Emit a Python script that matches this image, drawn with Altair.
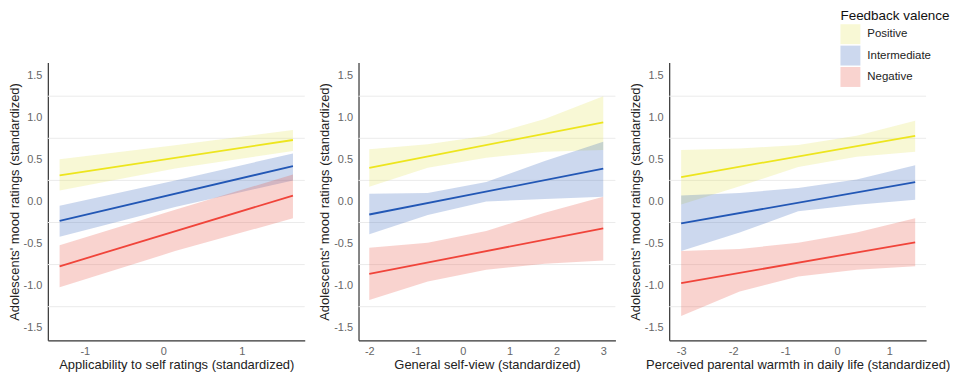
import altair as alt
import pandas as pd

valences = ["Positive", "Intermediate", "Negative"]
line_colors = ["#ede51d", "#2257b5", "#f0443a"]
band_colors = ["#e3e357", "#3363bb", "#e74f3f"]

y_ticks = [-1.5, -1.0, -0.5, 0.0, 0.5, 1.0, 1.5]
grid_vals = [-1.25, -0.75, -0.25, 0.25, 0.75, 1.25]
y_title = "Adolescents' mood ratings (standardized)"

# Panel A
p1_x_line = [-1.32, 1.65]
p1_pos = [0.31, 0.73]
p1_int = [-0.23, 0.42]
p1_neg = [-0.77, 0.07]
p1_x_band = [-1.32, 0.15, 1.65]
p1_pos_lo = [0.13, 0.39, 0.60]
p1_pos_hi = [0.50, 0.667, 0.85]
p1_int_lo = [-0.42, -0.065, 0.25]
p1_int_hi = [-0.05, 0.25, 0.57]
p1_neg_lo = [-1.02, -0.59, -0.20]
p1_neg_hi = [-0.52, -0.10, 0.32]
p1_ticks = [-1, 0, 1]
p1_domain = [-1.47, 1.80]
p1_title = "Applicability to self ratings (standardized)"

# Panel B
p2_x_line = [-2, 3]
p2_pos = [0.40, 0.94]
p2_int = [-0.155, 0.39]
p2_neg = [-0.86, -0.32]
p2_x_band = [-2, -0.75, 0.5, 1.75, 3]
p2_pos_lo = [0.175, 0.40, 0.52, 0.59, 0.61]
p2_pos_hi = [0.62, 0.68, 0.78, 0.98, 1.25]
p2_int_lo = [-0.39, -0.16, 0.0, 0.03, 0.055]
p2_int_hi = [0.09, 0.10, 0.23, 0.48, 0.71]
p2_neg_lo = [-1.17, -0.95, -0.81, -0.74, -0.70]
p2_neg_hi = [-0.55, -0.49, -0.35, -0.135, 0.055]
p2_ticks = [-2, -1, 0, 1, 2, 3]
p2_domain = [-2.23, 3.26]
p2_title = "General self-view (standardized)"

# Panel C
p3_x_line = [-3, 1.5]
p3_pos = [0.29, 0.78]
p3_int = [-0.26, 0.23]
p3_neg = [-0.97, -0.485]
p3_x_band = [-3, -1.875, -0.75, 0.375, 1.5]
p3_pos_lo = [-0.035, 0.18, 0.41, 0.53, 0.59]
p3_pos_hi = [0.61, 0.63, 0.67, 0.78, 0.96]
p3_int_lo = [-0.59, -0.37, -0.115, -0.04, 0.02]
p3_int_hi = [0.07, 0.10, 0.16, 0.26, 0.43]
p3_neg_lo = [-1.36, -1.07, -0.89, -0.81, -0.77]
p3_neg_hi = [-0.59, -0.565, -0.49, -0.37, -0.20]
p3_ticks = [-3, -2, -1, 0, 1]
p3_domain = [-3.23, 1.71]
p3_title = "Perceived parental warmth in daily life (standardized)"

FONT = "Liberation Sans"
fill_scale = alt.Scale(domain=valences, range=band_colors)
stroke_scale = alt.Scale(domain=valences, range=line_colors)
y_scale = alt.Scale(domain=[-1.65, 1.65], nice=False, zero=False)


def minus_expr(fmt):
    return ("datum.value < 0 ? '-' + format(-datum.value, '%s') : format(datum.value, '%s')"
            % (fmt, fmt))


def make_panel(xl, lines, xb, bands, xdom, xticks, xtitle):
    line_df = pd.DataFrame(
        [{"x": x, "y": y, "valence": v}
         for v, ys in zip(valences, lines) for x, y in zip(xl, ys)])
    band_df = pd.DataFrame(
        [{"x": x, "lo": lo, "hi": hi, "valence": v}
         for v, (los, his) in zip(valences, bands)
         for x, lo, hi in zip(xb, los, his)])
    grid_df = pd.DataFrame({"g": grid_vals})

    x_scale = alt.Scale(domain=xdom, nice=False, zero=False)
    x_axis = alt.Axis(values=xticks, title=xtitle, grid=False, ticks=False, tickSize=0,
                      labelPadding=5, titlePadding=2, labelExpr=minus_expr("d"))
    y_axis = alt.Axis(values=y_ticks, title=y_title, grid=False, ticks=False, tickSize=0,
                      labelPadding=6, titlePadding=2, labelExpr=minus_expr(".1f"))

    legend = alt.Legend(title="Feedback valence", orient="none", legendX=796, legendY=-54,
                        symbolType="square", symbolSize=400, symbolOpacity=0.25,
                        symbolStrokeWidth=0, labelFontSize=11.5, titleFontSize=13.5,
                        titleFontWeight="normal", titlePadding=2, rowPadding=1.5,
                        labelOffset=7, padding=0, titleColor="#111", labelColor="#222",
                        titleFont=FONT, labelFont=FONT)

    grid = alt.Chart(grid_df).mark_rule(color="#ebebeb", strokeWidth=1).encode(
        y=alt.Y("g:Q", scale=y_scale, axis=y_axis))
    band = alt.Chart(band_df).mark_area(opacity=0.25).encode(
        x=alt.X("x:Q", scale=x_scale, axis=x_axis),
        y=alt.Y("lo:Q", scale=y_scale, axis=y_axis),
        y2="hi:Q",
        fill=alt.Fill("valence:N", scale=fill_scale, legend=legend),
    )
    line = alt.Chart(line_df).mark_line(strokeWidth=1.8).encode(
        x=alt.X("x:Q", scale=x_scale, axis=x_axis),
        y=alt.Y("y:Q", scale=y_scale, axis=y_axis),
        stroke=alt.Stroke("valence:N", scale=stroke_scale, legend=None),
    )
    return alt.layer(grid, band, line).properties(width=258, height=279)


p1 = make_panel(p1_x_line, [p1_pos, p1_int, p1_neg], p1_x_band,
                [(p1_pos_lo, p1_pos_hi), (p1_int_lo, p1_int_hi), (p1_neg_lo, p1_neg_hi)],
                p1_domain, p1_ticks, p1_title)
p2 = make_panel(p2_x_line, [p2_pos, p2_int, p2_neg], p2_x_band,
                [(p2_pos_lo, p2_pos_hi), (p2_int_lo, p2_int_hi), (p2_neg_lo, p2_neg_hi)],
                p2_domain, p2_ticks, p2_title)
p3 = make_panel(p3_x_line, [p3_pos, p3_int, p3_neg], p3_x_band,
                [(p3_pos_lo, p3_pos_hi), (p3_int_lo, p3_int_hi), (p3_neg_lo, p3_neg_hi)],
                p3_domain, p3_ticks, p3_title)

chart = (
    alt.hconcat(p1, p2, p3, spacing=13)
    .resolve_scale(fill="shared", stroke="shared")
    .properties(padding=0)
    .configure_view(stroke=None)
    .configure_axis(
        labelFont=FONT, titleFont=FONT, labelFontSize=11, titleFontSize=13,
        labelColor="#666", titleColor="#222", titleFontWeight="normal",
        domainColor="#333", domainWidth=1.2,
    )
)

chart.save("out.html", embed_options={"renderer": "svg", "actions": False})
